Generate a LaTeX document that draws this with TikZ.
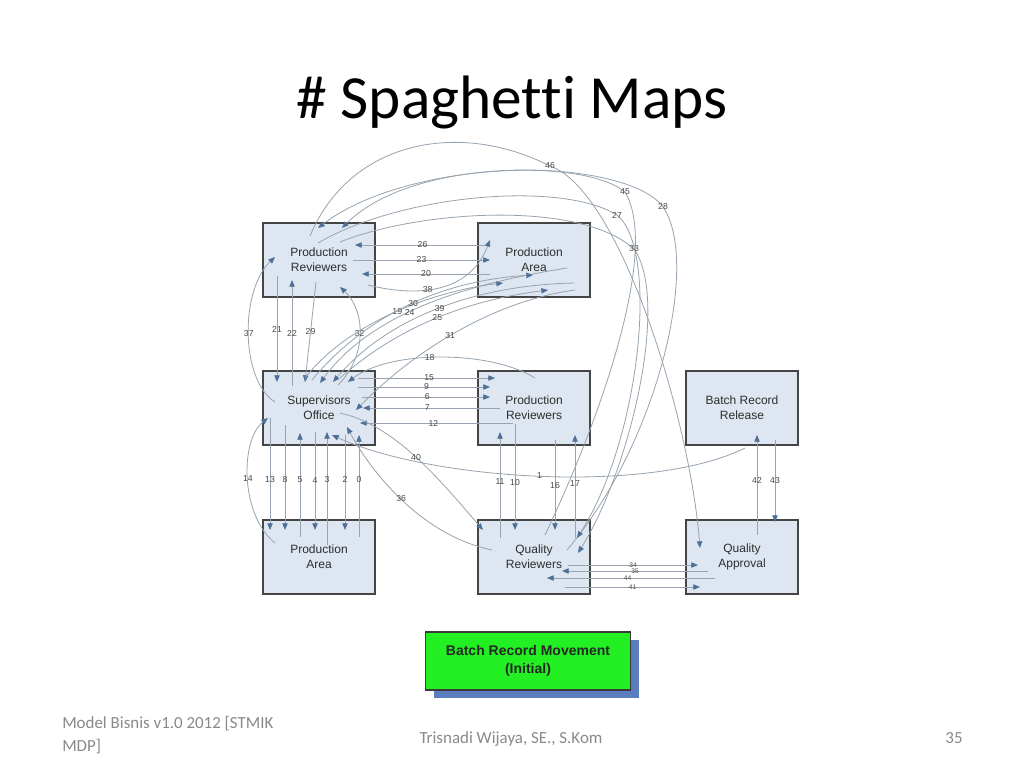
\documentclass[tikz,border=0pt]{standalone}
\usepackage{fontspec}
\setmainfont{Carlito}[Ligatures=NoCommon]
\newfontfamily\arialfont{Liberation Sans}
\usetikzlibrary{arrows.meta,calc,shadows,positioning}
\definecolor{boxfill}{HTML}{DDE6F1}
\definecolor{boxline}{HTML}{454545}
\definecolor{boxtext}{HTML}{2E2E2E}
\definecolor{movegrey}{HTML}{97A3AE}
\definecolor{tipblue}{HTML}{4D6F98}
\definecolor{numgrey}{HTML}{4A4A4A}
\definecolor{legendgreen}{HTML}{22F022}
\definecolor{legendline}{HTML}{3A3A3A}
\definecolor{shadowblue}{HTML}{5A7DBE}
\definecolor{footgrey}{HTML}{898989}
\tikzset
{
    areanode/.style = {rectangle, draw=boxline, fill=boxfill, line width=1.2pt, align=center, minimum width=84pt, minimum height=55.5pt, text=boxtext, font=\arialfont\fontsize{9}{11.25}\selectfont},
    legendnode/.style = {rectangle, draw=legendline, fill=legendgreen, line width=0.8pt, align=center, minimum width=153.75pt, minimum height=43.5pt, text=black!85, font=\arialfont\fontsize{10.5}{13.5}\selectfont\bfseries, drop shadow={shadow xshift=6pt, shadow yshift=-6pt, fill=shadowblue, opacity=1}},
    move/.style = {draw=movegrey, line width=0.6pt, -{Triangle[length=5pt,width=4pt,color=tipblue]}},
    moveno/.style = {text=numgrey, inner sep=0.5pt, font=\arialfont\fontsize{6.5}{7}\selectfont},
    tightno/.style = {moveno, inner sep=0pt, font=\arialfont\fontsize{5}{5}\selectfont},
    titletext/.style = {inner sep=0pt, font=\fontsize{46}{50}\selectfont},
    foottext/.style = {inner sep=0pt, text=footgrey, font=\fontsize{12.7}{17}\selectfont}
}
\begin{document}
\begin{tikzpicture}[x=0.75pt, y=-0.75pt]
\useasboundingbox (0,0) rectangle (1024,768);
\fill[white] (0,0) rectangle (1024,768);

\node[titletext, anchor=base] (title) at (512,118) {\# Spaghetti Maps};

% work areas
\node[areanode] (prodrev)   at (319,260) {Production\\Reviewers};
\node[areanode] (prodarea)  at (534,260) {Production\\Area};
\node[areanode] (superv)    at (319,408) {Supervisors\\Office};
\node[areanode] (prodrev2)  at (534,408) {Production\\Reviewers};
\node[areanode] (release)   at (742,408) {Batch Record\\Release};
\node[areanode] (prodarea2) at (319,557) {Production\\Area};
\node[areanode] (qualrev)   at (534,557) {Quality\\Reviewers};
\node[areanode] (qualappr)  at (742,557) {Quality\\Approval};

% reviewers <-> production area (top)
\draw[move] ($(prodarea.center)+(-44,-15)$) -- node[moveno] (m26) {26} ($(prodrev.center)+(36,-15)$);
\draw[move] ($(prodrev.center)+(34,0)$) -- node[moveno] (m23) {23} ($(prodarea.center)+(-44,0)$);
\draw[move] ($(prodarea.center)+(-44,14)$) -- node[moveno] (m20) {20} ($(prodrev.center)+(43,14)$);
\draw[move] ($(prodrev.center)+(49,25)$) .. controls (420,298) and (470,292) .. ($(prodarea.center)+(-44,-20)$) node[moveno, pos=0.4] (m38) {38};

% reviewers <-> supervisors
\draw[move] ($(superv.center)+(-44,-6)$) .. controls (240,380) and (240,290) .. ($(prodrev.center)+(-44,-3)$) node[moveno, pos=0.5] (m37) {37};
\draw[move] ($(prodrev.center)+(-42,16)$) -- node[moveno] (m21) {21} ($(superv.center)+(-42,-26)$);
\draw[move] ($(superv.center)+(-27,-22)$) -- node[moveno] (m22) {22} ($(prodrev.center)+(-27,20)$);
\draw[move] ($(prodrev.center)+(-3,22)$) -- node[moveno] (m29) {29} ($(superv.center)+(-14,-26)$);
\draw[move] ($(superv.center)+(19,-23)$) .. controls (368,355) and (365,310) .. ($(prodrev.center)+(21,27)$) node[moveno, pos=0.5] (m32) {32};

% supervisors <-> production area (top)
\draw[move] ($(superv.center)+(-14,-30)$) .. controls (350,320) and (440,290) .. ($(prodarea.center)+(-31,23)$) node[moveno, pos=0.5] (m19) {19};
\draw[move] ($(prodarea.center)+(33,8)$) .. controls (460,285) and (370,315) .. ($(superv.center)+(1,-25)$) node[moveno, pos=0.55] (m24) {24};
\draw[move] ($(superv.center)+(-7,-28)$) .. controls (370,310) and (450,280) .. ($(prodarea.center)+(-1,15)$) node[moveno, pos=0.5] (m30) {30};
\draw[move] ($(prodarea.center)+(40,23)$) .. controls (480,285) and (390,315) .. ($(superv.center)+(14,-26)$) node[moveno, pos=0.5] (m39) {39};
\draw[move] ($(superv.center)+(21,-30)$) .. controls (400,325) and (470,300) .. ($(prodarea.center)+(14,30)$) node[moveno, pos=0.5] (m25) {25};
\draw[move] ($(prodarea.center)+(41,30)$) .. controls (500,300) and (420,345) .. ($(superv.center)+(37,2)$) node[moveno, pos=0.55] (m31) {31};
\draw[move] ($(prodrev2.center)+(1,-30)$) .. controls (490,350) and (390,350) .. ($(superv.center)+(29,-26)$) node[moveno, pos=0.55] (m18) {18};

% supervisors <-> reviewers (middle)
\draw[move] ($(superv.center)+(39,-30)$) -- node[moveno, pos=0.52] (m15) {15} ($(prodrev2.center)+(-39,-30)$);
\draw[move] ($(superv.center)+(39,-21)$) -- node[moveno, pos=0.52] (m9) {9} ($(prodrev2.center)+(-44,-21)$);
\draw[move] ($(superv.center)+(43,-11)$) -- node[moveno, pos=0.51] (m6) {6} ($(prodrev2.center)+(-44,-11)$);
\draw[move] ($(prodrev2.center)+(-34,0)$) -- node[moveno, pos=0.53] (m7) {7} ($(superv.center)+(44,0)$);
\draw[move] ($(prodrev2.center)+(-21,15)$) -- node[moveno, pos=0.52] (m12) {12} ($(superv.center)+(41,15)$);

% long ones through the middle
\draw[move] ($(release.center)+(3,40)$) .. controls (650,495) and (430,480) .. ($(superv.center)+(13,27)$) node[moveno, pos=0.5] (m1) {1};
\draw[move] ($(superv.center)+(21,5)$) .. controls (395,425) and (440,480) .. ($(qualrev.center)+(-51,-27)$) node[moveno, pos=0.5] (m40) {40};
\draw[move] ($(qualrev.center)+(-42,-7)$) .. controls (420,535) and (370,470) .. ($(superv.center)+(28,19)$) node[moveno, pos=0.5] (m36) {36};

% supervisors <-> production area (bottom)
\draw[move] ($(prodarea2.center)+(-44,-14)$) .. controls (240,515) and (240,440) .. ($(superv.center)+(-51,10)$) node[moveno, pos=0.5] (m14) {14};
\draw[move] ($(superv.center)+(-49,10)$) -- node[moveno, pos=0.55] (m13) {13} ($(prodarea2.center)+(-49,-27)$);
\draw[move] ($(superv.center)+(-34,17)$) -- node[moveno, pos=0.52] (m8) {8} ($(prodarea2.center)+(-34,-27)$);
\draw[move] ($(prodarea2.center)+(-19,-20)$) -- node[moveno, pos=0.55] (m5) {5} ($(superv.center)+(-19,25)$);
\draw[move] ($(superv.center)+(-4,24)$) -- node[moveno, pos=0.49] (m4) {4} ($(prodarea2.center)+(-4,-27)$);
\draw[move] ($(prodarea2.center)+(8,-12)$) -- node[moveno, pos=0.58] (m3) {3} ($(superv.center)+(8,24)$);
\draw[move] ($(superv.center)+(26,27)$) -- node[moveno, pos=0.47] (m2) {2} ($(prodarea2.center)+(26,-27)$);
\draw[move] ($(prodarea2.center)+(40,-20)$) -- node[moveno, pos=0.56] (m0) {0} ($(superv.center)+(40,27)$);

% reviewers <-> quality reviewers
\draw[move] ($(qualrev.center)+(-34,-19)$) -- node[moveno, pos=0.53] (m11) {11} ($(prodrev2.center)+(-34,24)$);
\draw[move] ($(prodrev2.center)+(-19,16)$) -- node[moveno, pos=0.55] (m10) {10} ($(qualrev.center)+(-19,-27)$);
\draw[move] ($(prodrev2.center)+(21,32)$) -- node[moveno, pos=0.51] (m16) {16} ($(qualrev.center)+(21,-27)$);
\draw[move] ($(qualrev.center)+(41,-19)$) -- node[moveno, pos=0.53] (m17) {17} ($(prodrev2.center)+(41,27)$);

% release <-> approval
\draw[move] ($(qualappr.center)+(15,-22)$) -- node[moveno, pos=0.55] (m42) {42} ($(release.center)+(15,27)$);
\draw[move] ($(release.center)+(33,32)$) -- node[moveno, pos=0.49] (m43) {43} ($(qualappr.center)+(33,-35)$);

% quality reviewers <-> approval
\draw[move] ($(qualrev.center)+(34,8)$) -- node[tightno] (m34) {34} ($(qualappr.center)+(-44,8)$);
\draw[move] ($(qualappr.center)+(-34,14)$) -- node[tightno] (m35) {35} ($(qualrev.center)+(28,14)$);
\draw[move] ($(qualappr.center)+(-27,21)$) -- node[tightno, pos=0.52] (m44) {44} ($(qualrev.center)+(13,21)$);
\draw[move] ($(qualrev.center)+(31,30)$) -- node[tightno] (m41) {41} ($(qualappr.center)+(-42,30)$);

% big loops over the top
\draw[move] ($(prodrev.center)+(-9,-24)$) .. controls (350,140) and (460,120) .. (550,166) node[moveno] (m46) {46} .. controls (620,190) and (690,420) .. ($(qualappr.center)+(-42,-9)$);
\draw[move] ($(qualrev.center)+(11,-22)$) .. controls (600,420) and (660,250) .. (625,192) node[moveno] (m45) {45} .. controls (580,155) and (400,165) .. ($(prodrev.center)+(-1,-32)$);
\draw[move] ($(qualrev.center)+(33,-7)$) .. controls (660,440) and (700,260) .. (663,207) node[moveno] (m28) {28} .. controls (630,160) and (420,150) .. ($(prodrev.center)+(23,-32)$);
\draw[move] ($(prodrev.center)+(-1,-17)$) .. controls (400,195) and (560,180) .. (617,215) node[moveno] (m27) {27} .. controls (660,250) and (640,440) .. ($(qualrev.center)+(43,-19)$);
\draw[move] ($(prodrev.center)+(21,-18)$) .. controls (420,210) and (580,200) .. (634,249) node[moveno] (m33) {33} .. controls (670,300) and (630,470) .. ($(qualrev.center)+(44,-4)$);

% legend
\node[legendnode] (legend) at (528,661) {Batch Record Movement\\(Initial)};

% footer
\node[foottext, anchor=base west, align=left] (footleft) at (62,751) {Model Bisnis v1.0 2012 [STMIK\\MDP]};
\node[foottext, anchor=base] (footmid) at (511,743) {Trisnadi Wijaya, SE., S.Kom};
\node[foottext, anchor=base] (pageno) at (954,743) {35};
\end{tikzpicture}
\end{document}
